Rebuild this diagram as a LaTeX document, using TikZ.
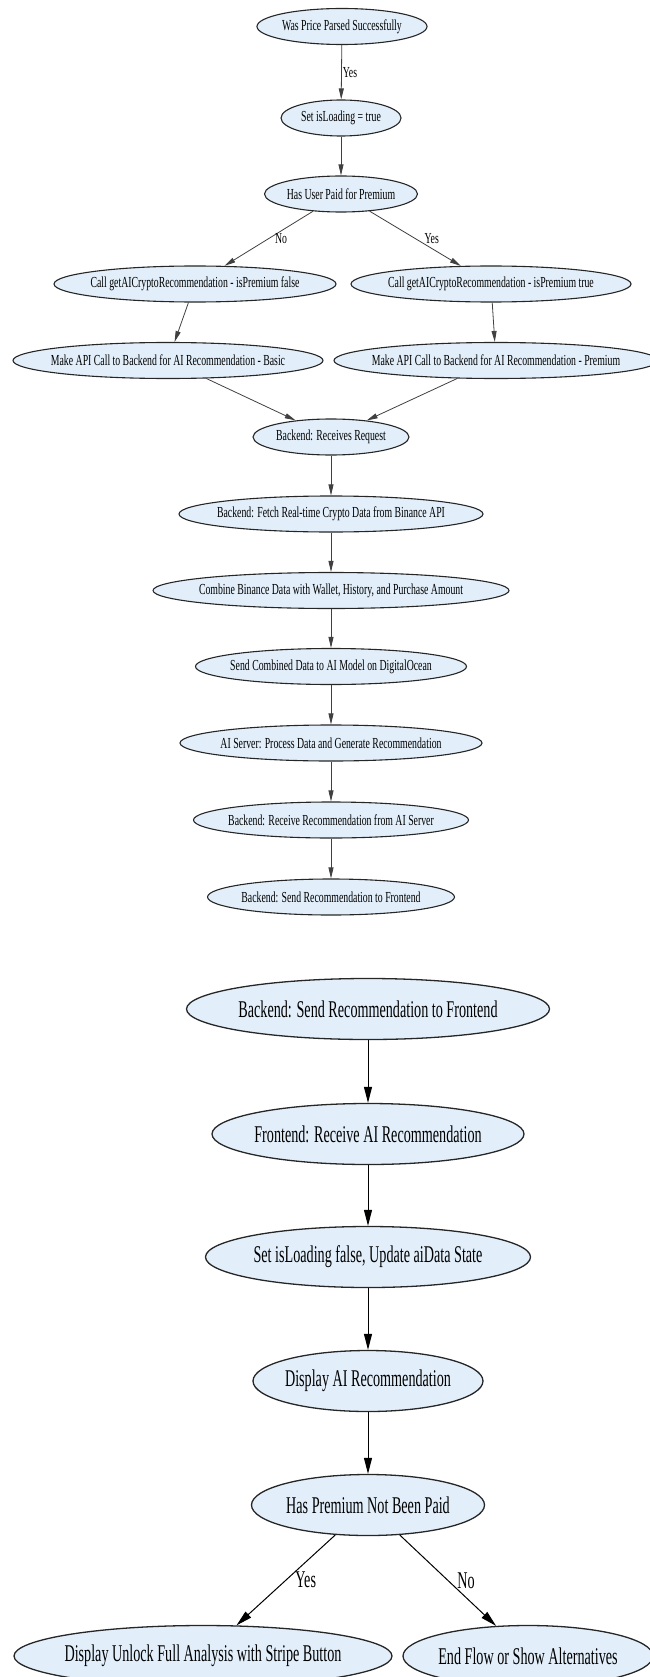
\documentclass[tikz,border=0pt]{standalone}
\usepackage{fontspec}
\newfontfamily\gvfont[FakeStretch=0.64]{Liberation Serif}
\newfontfamily\gvbfont[FakeStretch=0.59]{Liberation Serif}
\usetikzlibrary{shapes.geometric,arrows.meta}
\definecolor{nodefill}{RGB}{226,239,250}

\begin{document}
\begin{tikzpicture}[
    x=1pt,y=-1pt,
    EN/.style={ellipse,fill=nodefill,draw=black!85,line width=1.1pt,inner sep=0pt,minimum height=36pt,
      font=\gvfont\fontsize{15.3pt}{18pt}\selectfont,
      execute at begin node={\hbox to 0pt\bgroup\hss},execute at end node={\hss\egroup}},
    EB/.style={EN,minimum height=61pt,line width=1.3pt,font=\gvbfont\fontsize{24pt}{28pt}\selectfont},
    LL/.style={draw=black!75,line width=0.8pt,-{Triangle[length=11pt,width=5pt]}},
    LB/.style={draw=black,line width=1pt,-{Triangle[length=16pt,width=8pt]}},
    TL/.style={font=\gvfont\fontsize{15.3pt}{18pt}\selectfont,inner sep=1pt},
    BL/.style={font=\gvbfont\fontsize{24pt}{28pt}\selectfont,inner sep=1pt}
    ]
    \useasboundingbox (0,0) rectangle (649,1677);
    % first chart
    \node [EN,minimum width=170pt] (PP) at (342,26.5) {Was Price Parsed Successfully};
    \node [EN,minimum width=120pt] (SL) at (341,118) {Set isLoading = true};
    \node [EN,minimum width=153pt] (UP) at (341,194) {Has User Paid for Premium};
    \node [EN,minimum width=282pt] (CF) at (195,284) {Call getAICryptoRecommendation - isPremium false};
    \node [EN,minimum width=280pt] (CT) at (491,284) {Call getAICryptoRecommendation - isPremium true};
    \node [EN,minimum width=310pt] (MB) at (168,360.5) {Make API Call to Backend for AI Recommendation - Basic};
    \node [EN,minimum width=324pt] (MP) at (496,360.5) {Make API Call to Backend for AI Recommendation - Premium};
    \node [EN,minimum width=156pt] (RR) at (331,437) {Backend: Receives Request};
    \node [EN,minimum width=304pt] (FB) at (331,514) {Backend: Fetch Real-time Crypto Data from Binance API};
    \node [EN,minimum width=356pt] (CB) at (331,590.5) {Combine Binance Data with Wallet, History, and Purchase Amount};
    \node [EN,minimum width=271pt] (SD) at (331,666.5) {Send Combined Data to AI Model on DigitalOcean};
    \node [EN,minimum width=302pt] (PD) at (331,743) {AI Server: Process Data and Generate Recommendation};
    \node [EN,minimum width=275pt] (RA) at (331,820) {Backend: Receive Recommendation from AI Server};
    \node [EN,minimum width=247pt] (SF) at (331,897) {Backend: Send Recommendation to Frontend};
    \draw [LL] (PP) -- node [TL,right] (Y1) {Yes} (SL);
    \draw [LL] (SL) -- (UP);
    \draw [LL] (UP) -- node [TL,right=5pt] (N1) {No} (CF);
    \draw [LL] (UP) -- node [TL,right=8pt] (Y2) {Yes} (CT);
    \draw [LL] (CF) -- (MB);
    \draw [LL] (CT) -- (MP);
    \draw [LL] (MB) -- (RR);
    \draw [LL] (MP) -- (RR);
    \draw [LL] (RR) -- (FB);
    \draw [LL] (FB) -- (CB);
    \draw [LL] (CB) -- (SD);
    \draw [LL] (SD) -- (PD);
    \draw [LL] (PD) -- (RA);
    \draw [LL] (RA) -- (SF);
    % second chart
    \node [EB,minimum width=363pt] (BS) at (368,1009) {Backend: Send Recommendation to Frontend};
    \node [EB,minimum width=312pt] (FR) at (368,1134) {Frontend: Receive AI Recommendation};
    \node [EB,minimum width=325pt] (UL) at (368,1257) {Set isLoading false, Update aiData State};
    \node [EB,minimum width=230pt] (DA) at (368,1381) {Display AI Recommendation};
    \node [EB,minimum width=233pt] (NP) at (368,1505) {Has Premium Not Been Paid};
    \node [EB,minimum width=378pt] (SB) at (203,1656) {Display Unlock Full Analysis with Stripe Button};
    \node [EB,minimum width=250pt] (EF) at (528,1656) {End Flow or Show Alternatives};
    \draw [LB] (BS) -- (FR);
    \draw [LB] (FR) -- (UL);
    \draw [LB] (UL) -- (DA);
    \draw [LB] (DA) -- (NP);
    \draw [LB] (NP) -- node [BL,right=8pt] (Y3) {Yes} (SB);
    \draw [LB] (NP) -- node [BL,right=8pt] (N2) {No} (EF);
\end{tikzpicture}
\end{document}
